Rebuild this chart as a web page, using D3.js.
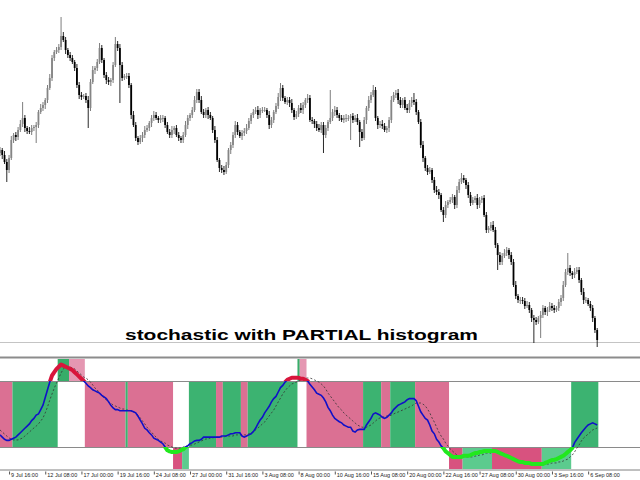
<!DOCTYPE html>
<html><head><meta charset="utf-8">
<script src="https://cdn.jsdelivr.net/npm/d3@7"></script>
<style>html,body{margin:0;padding:0;background:#fff}svg{display:block}</style>
</head><body>
<svg id="c" width="640" height="480"></svg>
<script>
// ---- price data (relative price units, one H4 bar each) ----
const firstOpen = 192;
const closes = [
195,190,183,175,187,205,210,208, 215,221,227,217,214,213,217,218,
220,233,237,240,245,257,267,287, 293,295,298,309,305,295,290,287,
283,277,260,250,248,249,245,237, 263,275,277,283,297,285,270,265,
263,265,280,301,297,280,267,269, 269,260,230,220,207,203,207,210,
215,217,222,227,230,227,225,227, 227,220,213,210,215,217,210,207,
205,210,220,227,230,235,245,253, 245,233,230,235,230,227,215,205,
185,177,175,173,180,195,200,210, 220,213,209,212,214,217,224,230,
233,235,230,235,235,235,230,220, 225,233,239,248,257,247,243,245,
242,235,228,231,237,235,240,245, 247,225,224,221,217,215,220,210,
217,223,227,233,235,230,227,225, 227,227,227,229,225,227,223,213,
207,225,237,245,250,255,227,220, 221,219,215,217,225,245,250,252,
245,240,245,237,235,242,245,243, 233,223,200,187,177,173,175,165,
155,153,150,135,130,140,143,145, 148,140,155,163,167,165,160,150,
142,145,147,140,145,147,130,115, 117,120,115,100,90,83,89,92,
95,90,83,60,49,45,45,44, 39,40,35,27,25,23,27,30,
37,33,35,39,37,35,37,43, 47,60,73,77,72,70,73,75,
65,53,45,45,41,37,27,15, 5];
const hiExt = [
3,2,4,3,3,4,2,3, 3,4,16,3,2,4,3,2, 3,2,4,3,2,3,4,3, 2,3,3,19,4,3,2,3,
3,2,4,3,3,2,3,4, 3,4,2,3,5,3,2,3, 3,2,3,7,3,4,3,2, 3,3,2,4,3,2,3,3,
4,3,2,3,4,3,2,3, 3,2,3,3,4,2,3,3, 2,3,4,3,2,3,4,3, 3,4,3,2,3,3,2,4,
3,2,3,4,3,2,3,3, 4,3,2,3,3,4,3,2, 3,3,4,2,3,3,2,4, 3,2,3,4,5,3,2,3,
3,4,2,3,3,5,3,2, 4,3,3,2,3,4,3,3, 3,2,28,3,4,3,2,3, 3,4,3,2,3,3,4,2,
3,3,2,4,3,5,3,2, 3,4,3,2,3,4,3,3, 4,3,2,3,4,3,3,7, 3,2,3,4,2,3,3,2,
3,4,3,2,3,4,2,3, 3,2,4,3,5,3,2,3, 3,3,2,4,3,2,3,3, 2,3,4,3,2,3,3,4,
3,2,3,3,4,2,3,3, 3,4,3,2,3,3,2,4, 3,2,3,4,3,3,2,3, 3,4,3,15,3,2,4,3,
3,2,4,3,2,3,3,2, 2];
const loExt = [
3,4,2,12,3,2,3,4, 3,2,3,4,3,2,3,3, 16,3,2,3,4,3,2,3, 3,2,3,3,2,4,3,3,
2,3,3,4,3,2,3,20, 3,2,4,3,2,3,3,4, 3,4,3,2,3,38,3,2, 3,3,4,2,3,3,2,4,
3,2,3,4,3,2,3,3, 4,3,2,3,3,4,2,3, 3,3,2,4,3,3,2,3, 3,2,3,3,4,2,3,3,
2,4,3,3,2,3,4,3, 3,3,2,4,3,3,2,3, 3,2,4,3,3,2,3,4, 3,3,2,3,4,3,2,3,
4,3,3,2,3,3,4,3, 3,2,3,4,3,2,3,18, 3,3,2,3,4,3,3,2, 3,4,3,22,3,2,3,15,
3,2,4,3,3,2,3,4, 3,3,2,3,4,3,2,3, 4,3,3,2,3,3,4,3, 3,2,3,4,3,3,2,3,
3,3,4,2,7,3,3,2, 3,4,3,3,2,3,4,3, 3,2,3,4,3,3,2,3, 3,3,2,3,15,3,3,2,
3,4,3,2,3,3,4,3, 3,2,3,4,23,3,2,20, 3,3,4,2,3,3,2,3, 4,3,2,3,3,4,3,2,
3,3,4,3,2,3,4,3, 7];

// ---- stochastic data ----
const stochMain = [
31,29,27,26,26,27,28,29, 31,33,35,37,39,41,44,46, 49,50,54,58,65,72,79,85, 88,91,93,95,94,93,92,91,
90,88,86,84,82,80,78,75.5, 74,72,71,70,69,67,65.5,64, 61,58,55.5,54,54,53,53,53, 53,53,53,52,51,48,44.5,41,
37,35.5,33,31,28,27,26,24.5, 23,20,17,16,15.5,15.5,15.5,16, 17,18,20,21,23,24,25.5,26, 26,27,29,29,29,29,29,29,
29,29,30,30,30,31,32,32, 33,33,33,30,29,30,31,32, 34,37,41,44.5,47,51,54,57, 61,64,66,70,74,76,79,81,
82,83,83,83,83,82,82,81, 80,77,74.5,72,69,68,67,64.5, 61,56,53,49,46,44.5,43,42, 40,39,38,38,34.5,33.5,35.5,36,
36,36,40,43,46,50,51,50, 49,47,46,47,49,51,54,56, 58,59,60,61,63,64,64,64, 62,57,52,49,46,44.5,40,34.5,
32,27,24.5,21,19,16,14.5,12.7, 11,11,11,11,11,12,12,12, 12.7,13.6,14.5,14.5,15.5,15.5,16.4,16.4, 16.4,16.4,16.4,16.4,15.5,14.5,13.6,12.7,
12,11,10,9,8,7,6.4,6.4, 5.5,5.5,5.5,4.5,4.5,4.5,4.5,4.5, 4.5,5.5,6.4,7.3,8.2,8.2,9,10, 11,12,13.6,15.5,17,19,24,27,
30,33,35.5,38,40,41,42,41, 40];
const stochSignal = [
35.5,33.6,31.8,30,28.2,27.3,26.4,26.4, 26.4,27.3,28.2,30,31.8,33.6,35.5,37.3, 39,41,43.6,46.4,51,56.4,62.7,68.2, 73.6,78.2,82.7,87.3,91,92.7,92.7,92.7,
91.8,91,89,87.3,85.5,83.6,82.7,81, 79,76.4,73.6,71.8,69,66.4,64.5,62.7, 61,60,58,57.3,56.4,55.5,54.5,54.5, 53.6,53.6,52.7,51.8,51,49,46.4,43.6,
41,38,35.5,33.6,31,29,27,25.5, 24.5,23.6,21.8,21,20,19,19,19, 19,20,21,21,21.8,21.8,22.7,23.6, 24.5,25.5,26.4,27.3,27.3,28.2,28.2,29,
29,29,29,29,30,30,30,30, 31,31,31,31,31,31,32,33, 33.6,35.5,37.3,39,41,42.7,45.5,48.2, 51,53.6,57.3,61,64.5,68.2,71,73.6,
75.5,77.3,78.2,79,80,81,82,82.7, 82.7,82.7,82,81,80,79,77.3,75.5, 72.7,69,66.4,63.6,61,58,55.5,53.6, 51,49,47.3,45.5,43.6,41.8,40,39,
38,38,38,39,40,41.8,43.6,45.5, 46.4,47.3,47.3,48.2,48.2,49,50,51, 51.8,52.7,53.6,54.5,55.5,56.4,57.3,59, 60,60,60,59,57.3,54.5,51,46.4,
42.7,38,33.6,30,27.3,23.6,21,18.2, 16.4,14.5,12.7,11.8,11,11,11,11, 11,11,11.8,11.8,12.7,12.7,13.6,14.5, 14.5,14.5,15.5,15.5,15.5,14.5,14.5,13.6,
12.7,11.8,11,10,9,8.2,7.3,7.3, 6.4,6.4,5.5,5.5,5.5,4.5,4.5,4.5, 4.5,4.5,4.5,4.5,5.5,5.5,5.5,6.4, 6.4,7.3,8.2,9,11,12.7,15.5,19,
21.8,25.5,28.2,30,31.8,33.6,35.5,36.4, 37.3];
const levels = [20, 80];

// partial histogram runs: bar start (incl.), bar end (excl.), zone, direction
const histStart = [0,6,38,56,57,84,96,99,107,110,136,161,169,173,184,253, 26,31,132,133, 77,81,199,205,218,240];
const histEnd   = [6,26,56,57,77,96,99,107,110,132,161,169,173,184,199,265, 31,38,133,136, 81,84,205,218,240,253];
const histZone  = ["mid","mid","mid","mid","mid","mid","mid","mid","mid","mid","mid","mid","mid","mid","mid","mid",
                   "top","top","top","top", "bot","bot","bot","bot","bot","bot"];
const histDir   = ["dn","up","dn","up","dn","up","dn","up","dn","up","dn","up","dn","up","dn","up",
                   "up","dn","up","dn", "dn","up","dn","up","dn","up"];

// time axis
const tickBars = [4,20,36,52,68,84,100,116,132,148,164,180,196,212,228,244,260];
const tickLabels = ["9 Jul 16:00","12 Jul 08:00","17 Jul 00:00","19 Jul 16:00","24 Jul 08:00","27 Jul 00:00",
  "31 Jul 16:00","3 Aug 08:00","8 Aug 00:00","10 Aug 16:00","15 Aug 08:00","20 Aug 00:00","22 Aug 16:00",
  "27 Aug 08:00","30 Aug 00:00","3 Sep 16:00","6 Sep 08:00"];
const titleText = "stochastic with PARTIAL histogram";

// ---- drawing ----
const svg = d3.select("#c");
const N = Math.min(closes.length, hiExt.length, loExt.length);
const M = Math.min(stochMain.length, stochSignal.length);
const x = d3.scaleLinear().domain([0, 264]).range([0, 597.2]);
const yP = d3.scaleLinear().domain([0, 345]).range([345, 0]);
const yS = d3.scaleLinear().domain([0, 100]).range([469, 359]);

// price line
svg.append("line").attr("x1",0).attr("x2",640).attr("y1",342.5).attr("y2",342.5)
  .attr("stroke","#c4c4c4").attr("stroke-width",1);

// candles
const bars = d3.range(N).map(i => {
  const o = i === 0 ? firstOpen : closes[i-1], c = closes[i];
  return {i, o, c, h: Math.max(o,c) + hiExt[i], l: Math.min(o,c) - loExt[i]};
});
const cg = svg.append("g");
cg.selectAll("line.w").data(bars).join("line").attr("class","w")
  .attr("x1", d => x(d.i)).attr("x2", d => x(d.i))
  .attr("y1", d => yP(d.h)).attr("y2", d => yP(d.l))
  .attr("stroke", d => d.c >= d.o ? "#6e6e6e" : "#111").attr("stroke-width", 0.9);
cg.selectAll("rect.b").data(bars).join("rect").attr("class","b")
  .attr("x", d => x(d.i) - 0.9).attr("width", 1.8)
  .attr("y", d => yP(Math.max(d.o,d.c)))
  .attr("height", d => Math.max(1, yP(Math.min(d.o,d.c)) - yP(Math.max(d.o,d.c))))
  .attr("fill", d => d.c >= d.o ? "#858585" : "#000");

// title
svg.append("text").attr("x",125).attr("y",340)
  .attr("font-family","'Liberation Sans', Arial, sans-serif").attr("font-weight","bold")
  .attr("font-size",15.5).attr("fill","#000")
  .attr("textLength",353).attr("lengthAdjust","spacingAndGlyphs")
  .text(titleText);

// separator
svg.append("rect").attr("x",0).attr("y",356.5).attr("width",640).attr("height",2).attr("fill","#8c8c8c");

// histogram
const zoneRange = {mid:[20,80], top:[80,100], bot:[0,20]};
const zoneColor = {
  mid:{up:"#3cb371", dn:"#db7093"},
  top:{up:"#37ad69", dn:"#e597b2"},
  bot:{up:"#5ccb8e", dn:"#d8527f"}
};
const runs = d3.range(histStart.length).map(k => ({s:histStart[k], e:histEnd[k], z:histZone[k], d:histDir[k]}));
svg.append("g").selectAll("rect").data(runs).join("rect")
  .attr("x", d => x(d.s - 0.5)).attr("width", d => x(d.e - 0.5) - x(d.s - 0.5))
  .attr("y", d => yS(zoneRange[d.z][1])).attr("height", d => yS(zoneRange[d.z][0]) - yS(zoneRange[d.z][1]))
  .attr("fill", d => zoneColor[d.z][d.d]);

// level lines
svg.append("g").selectAll("line").data(levels).join("line")
  .attr("x1",0).attr("x2",640).attr("y1", d => Math.round(yS(d)) + 0.5).attr("y2", d => Math.round(yS(d)) + 0.5)
  .attr("stroke","#8a8a8a").attr("stroke-width",1);

// lines
const idx = d3.range(M);
const lineMain = d3.line().x(i => x(i)).y(i => yS(stochMain[i]));
const lineSig = d3.line().x(i => x(i)).y(i => yS(stochSignal[i]));
svg.append("path").attr("d", lineSig(idx)).attr("fill","none").attr("stroke","#333")
  .attr("stroke-width",0.8).attr("stroke-dasharray","2,2");
svg.append("path").attr("d", lineMain(idx)).attr("fill","none").attr("stroke","#1010c8")
  .attr("stroke-width",1.6);

const defs = svg.append("defs");
defs.append("clipPath").attr("id","clipTop").append("rect")
  .attr("x",0).attr("width",640).attr("y",yS(100)).attr("height",yS(80)-yS(100));
defs.append("clipPath").attr("id","clipBot").append("rect")
  .attr("x",0).attr("width",640).attr("y",yS(20)).attr("height",yS(0)-yS(20));
svg.append("path").attr("d", lineMain(idx)).attr("fill","none").attr("stroke","#d8163c")
  .attr("stroke-width",4).attr("stroke-linejoin","round").attr("clip-path","url(#clipTop)");
svg.append("path").attr("d", lineMain(idx)).attr("fill","none").attr("stroke","#22e81e")
  .attr("stroke-width",4).attr("stroke-linejoin","round").attr("clip-path","url(#clipBot)");

// time axis
const axis = d3.axisBottom(x).tickValues(tickBars).tickFormat((d,k) => tickLabels[k]).tickSize(4).tickSizeOuter(0);
const ag = svg.append("g").attr("transform","translate(0,469.5)").call(axis);
ag.select(".domain").attr("stroke","#808080").attr("d","M0,0.5H640");
ag.selectAll(".tick line").attr("stroke","#555").attr("y1",2).attr("y2",5);
ag.selectAll(".tick text").attr("text-anchor","start").attr("x",1.5).attr("y",3.2).attr("dy","0.71em")
  .attr("font-family","'Liberation Sans', Arial, sans-serif").attr("font-size",5.5)
  .style("fill","#222");
</script>
</body></html>
